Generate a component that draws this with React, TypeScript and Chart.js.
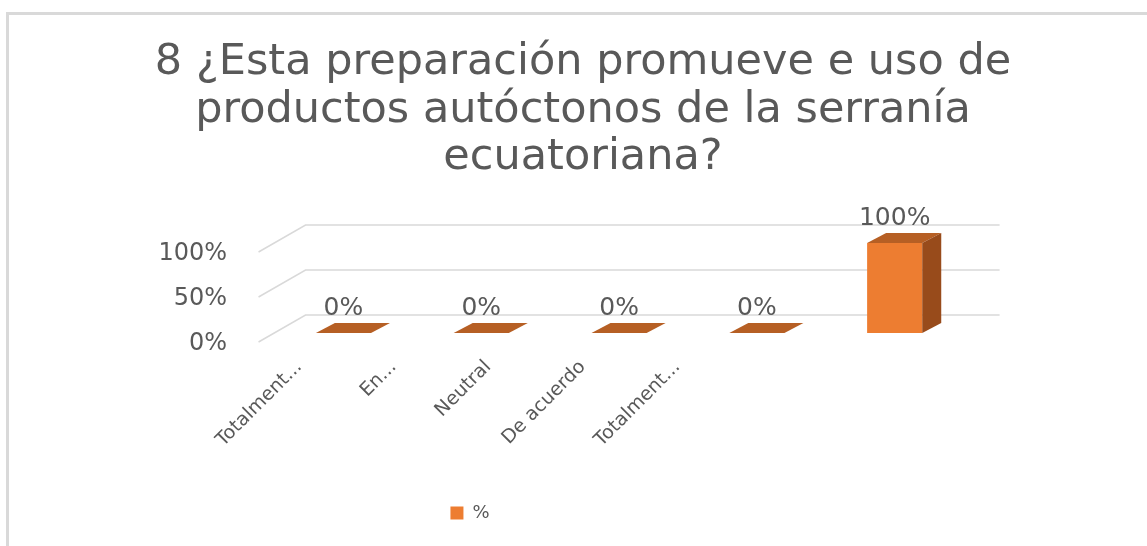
import React, { useEffect, useRef } from "react";
import { Chart, registerables } from "chart.js";

Chart.register(...registerables);

// ---- data ----
const titleLines = [
  "8 ¿Esta preparación promueve e uso de",
  "productos autóctonos de la serranía",
  "ecuatoriana?",
];
const categories = ["Totalment...", "En...", "Neutral", "De acuerdo", "Totalment..."];
const seriesLabel = "%";
const values = [0, 0, 0, 0, 100];
const valueTicks = [0, 50, 100];

// ---- styles ----
const FONT = "'DejaVu Sans', sans-serif";
const TEXT = "#595959";
const FRONT = "#ed7d31";
const TOP = "#b65f24";
const SIDE = "#984b1b";
const GRID = "#d9d9d9";
const BAR_DX = 19;
const BAR_DY = -10;

const grid3d = {
  id: "grid3d",
  beforeDatasetsDraw(chart: any) {
    const { ctx, scales } = chart;
    const x = scales.x;
    const y = scales.y;
    const left = x.getPixelForValue(-0.5) - 16;
    const right = x.getPixelForValue(categories.length - 0.5) + 36;
    ctx.save();
    ctx.strokeStyle = GRID;
    ctx.lineWidth = 1.5;
    valueTicks.forEach((v) => {
      const py = y.getPixelForValue(v);
      ctx.beginPath();
      ctx.moveTo(left, py + 9);
      ctx.lineTo(left + 47, py - 18);
      ctx.lineTo(right, py - 18);
      ctx.stroke();
    });
    ctx.restore();
  },
};

const bars3d = {
  id: "bars3d",
  afterDatasetsDraw(chart: any) {
    const { ctx } = chart;
    const meta = chart.getDatasetMeta(0);
    ctx.save();
    meta.data.forEach((bar: any, i: number) => {
      const { x, y, base, width } = bar.getProps(["x", "y", "base", "width"], true);
      const l = x - width / 2;
      const r = x + width / 2;
      ctx.fillStyle = TOP;
      ctx.beginPath();
      ctx.moveTo(l, y);
      ctx.lineTo(r, y);
      ctx.lineTo(r + BAR_DX, y + BAR_DY);
      ctx.lineTo(l + BAR_DX, y + BAR_DY);
      ctx.closePath();
      ctx.fill();
      if (base - y > 0.5) {
        ctx.fillStyle = SIDE;
        ctx.beginPath();
        ctx.moveTo(r, y);
        ctx.lineTo(r + BAR_DX, y + BAR_DY);
        ctx.lineTo(r + BAR_DX, base + BAR_DY);
        ctx.lineTo(r, base);
        ctx.closePath();
        ctx.fill();
      }
      ctx.fillStyle = TEXT;
      ctx.font = `25px ${FONT}`;
      ctx.textAlign = "center";
      ctx.textBaseline = "middle";
      ctx.fillText(`${values[i]}%`, x, y - 24.5);
    });
    ctx.restore();
  },
};

const legendPlace = {
  id: "legendPlace",
  afterLayout(chart: any) {
    const lg = chart.legend;
    if (!lg) return;
    const center = 470;
    const w = lg.right - lg.left;
    lg.left = center - w / 2;
    lg.right = center + w / 2;
  },
};

export default function App() {
  const ref = useRef<HTMLCanvasElement>(null);

  useEffect(() => {
    const canvas = ref.current;
    if (!canvas) return;
    const chart = new Chart(canvas, {
      type: "bar",
      data: {
        datasets: [
          {
            label: seriesLabel,
            data: categories.map((_, i) => ({ x: i, y: values[i] })),
            backgroundColor: FRONT,
            borderColor: FRONT,
            borderWidth: 0,
            barPercentage: 0.4,
            categoryPercentage: 1,
          },
        ],
      },
      options: {
        animation: false,
        responsive: false,
        layout: { padding: { left: 19, right: 0, top: 0, bottom: 14 } },
        plugins: {
          title: {
            display: true,
            text: titleLines,
            color: TEXT,
            font: { family: FONT, size: 43, weight: "normal", lineHeight: 47.5 / 43 },
            padding: { top: 39.5, bottom: 61 },
          },
          legend: {
            display: true,
            position: "bottom",
            labels: {
              color: TEXT,
              font: { family: FONT, size: 18 },
              boxWidth: 13,
              boxHeight: 13,
              padding: 10,
            },
          },
          tooltip: { enabled: false },
        },
        scales: {
          x: {
            type: "linear",
            display: false,
            min: -0.845,
            max: 5.831,
            offset: false,
            afterBuildTicks: (s: any) => {
              s.ticks = categories.map((_, i) => ({ value: i }));
            },
          },
          x2: {
            type: "linear",
            axis: "x",
            position: "bottom",
            min: -0.761,
            max: 8.964,
            offset: false,
            grid: { display: false, drawTicks: false },
            border: { display: false },
            afterBuildTicks: (s: any) => {
              s.ticks = categories.map((_, i) => ({ value: i }));
            },
            afterFit: (s: any) => {
              s.height = 161;
            },
            ticks: {
              autoSkip: false,
              minRotation: 45,
              maxRotation: 45,
              padding: 23,
              color: TEXT,
              font: { family: FONT, size: 19 },
              callback: (v: any) => categories[v] ?? "",
            },
          },
          y: {
            type: "linear",
            position: "left",
            min: 0,
            max: 100,
            grid: { display: false, drawTicks: false },
            border: { display: false },
            afterBuildTicks: (s: any) => {
              s.ticks = valueTicks.map((v) => ({ value: v }));
            },
            afterFit: (s: any) => {
              s.width = 208;
            },
            ticks: {
              padding: 0,
              labelOffset: 11,
              color: TEXT,
              font: { family: FONT, size: 24 },
              callback: (v: any) => `${v}%`,
            },
          },
        },
      } as any,
      plugins: [grid3d, bars3d, legendPlace],
    });
    return () => chart.destroy();
  }, []);

  return (
    <div
      style={{
        position: "absolute",
        left: 0,
        top: 0,
        width: 1147,
        height: 546,
        overflow: "hidden",
        background: "#ffffff",
      }}
    >
      <div
        style={{
          position: "absolute",
          left: 6,
          top: 12,
          right: -10,
          bottom: -10,
          borderTop: "3px solid #d9d9d9",
          borderLeft: "3px solid #d9d9d9",
        }}
      />
      <canvas ref={ref} width={1147} height={546} style={{ position: "absolute", left: 0, top: 0 }} />
    </div>
  );
}
